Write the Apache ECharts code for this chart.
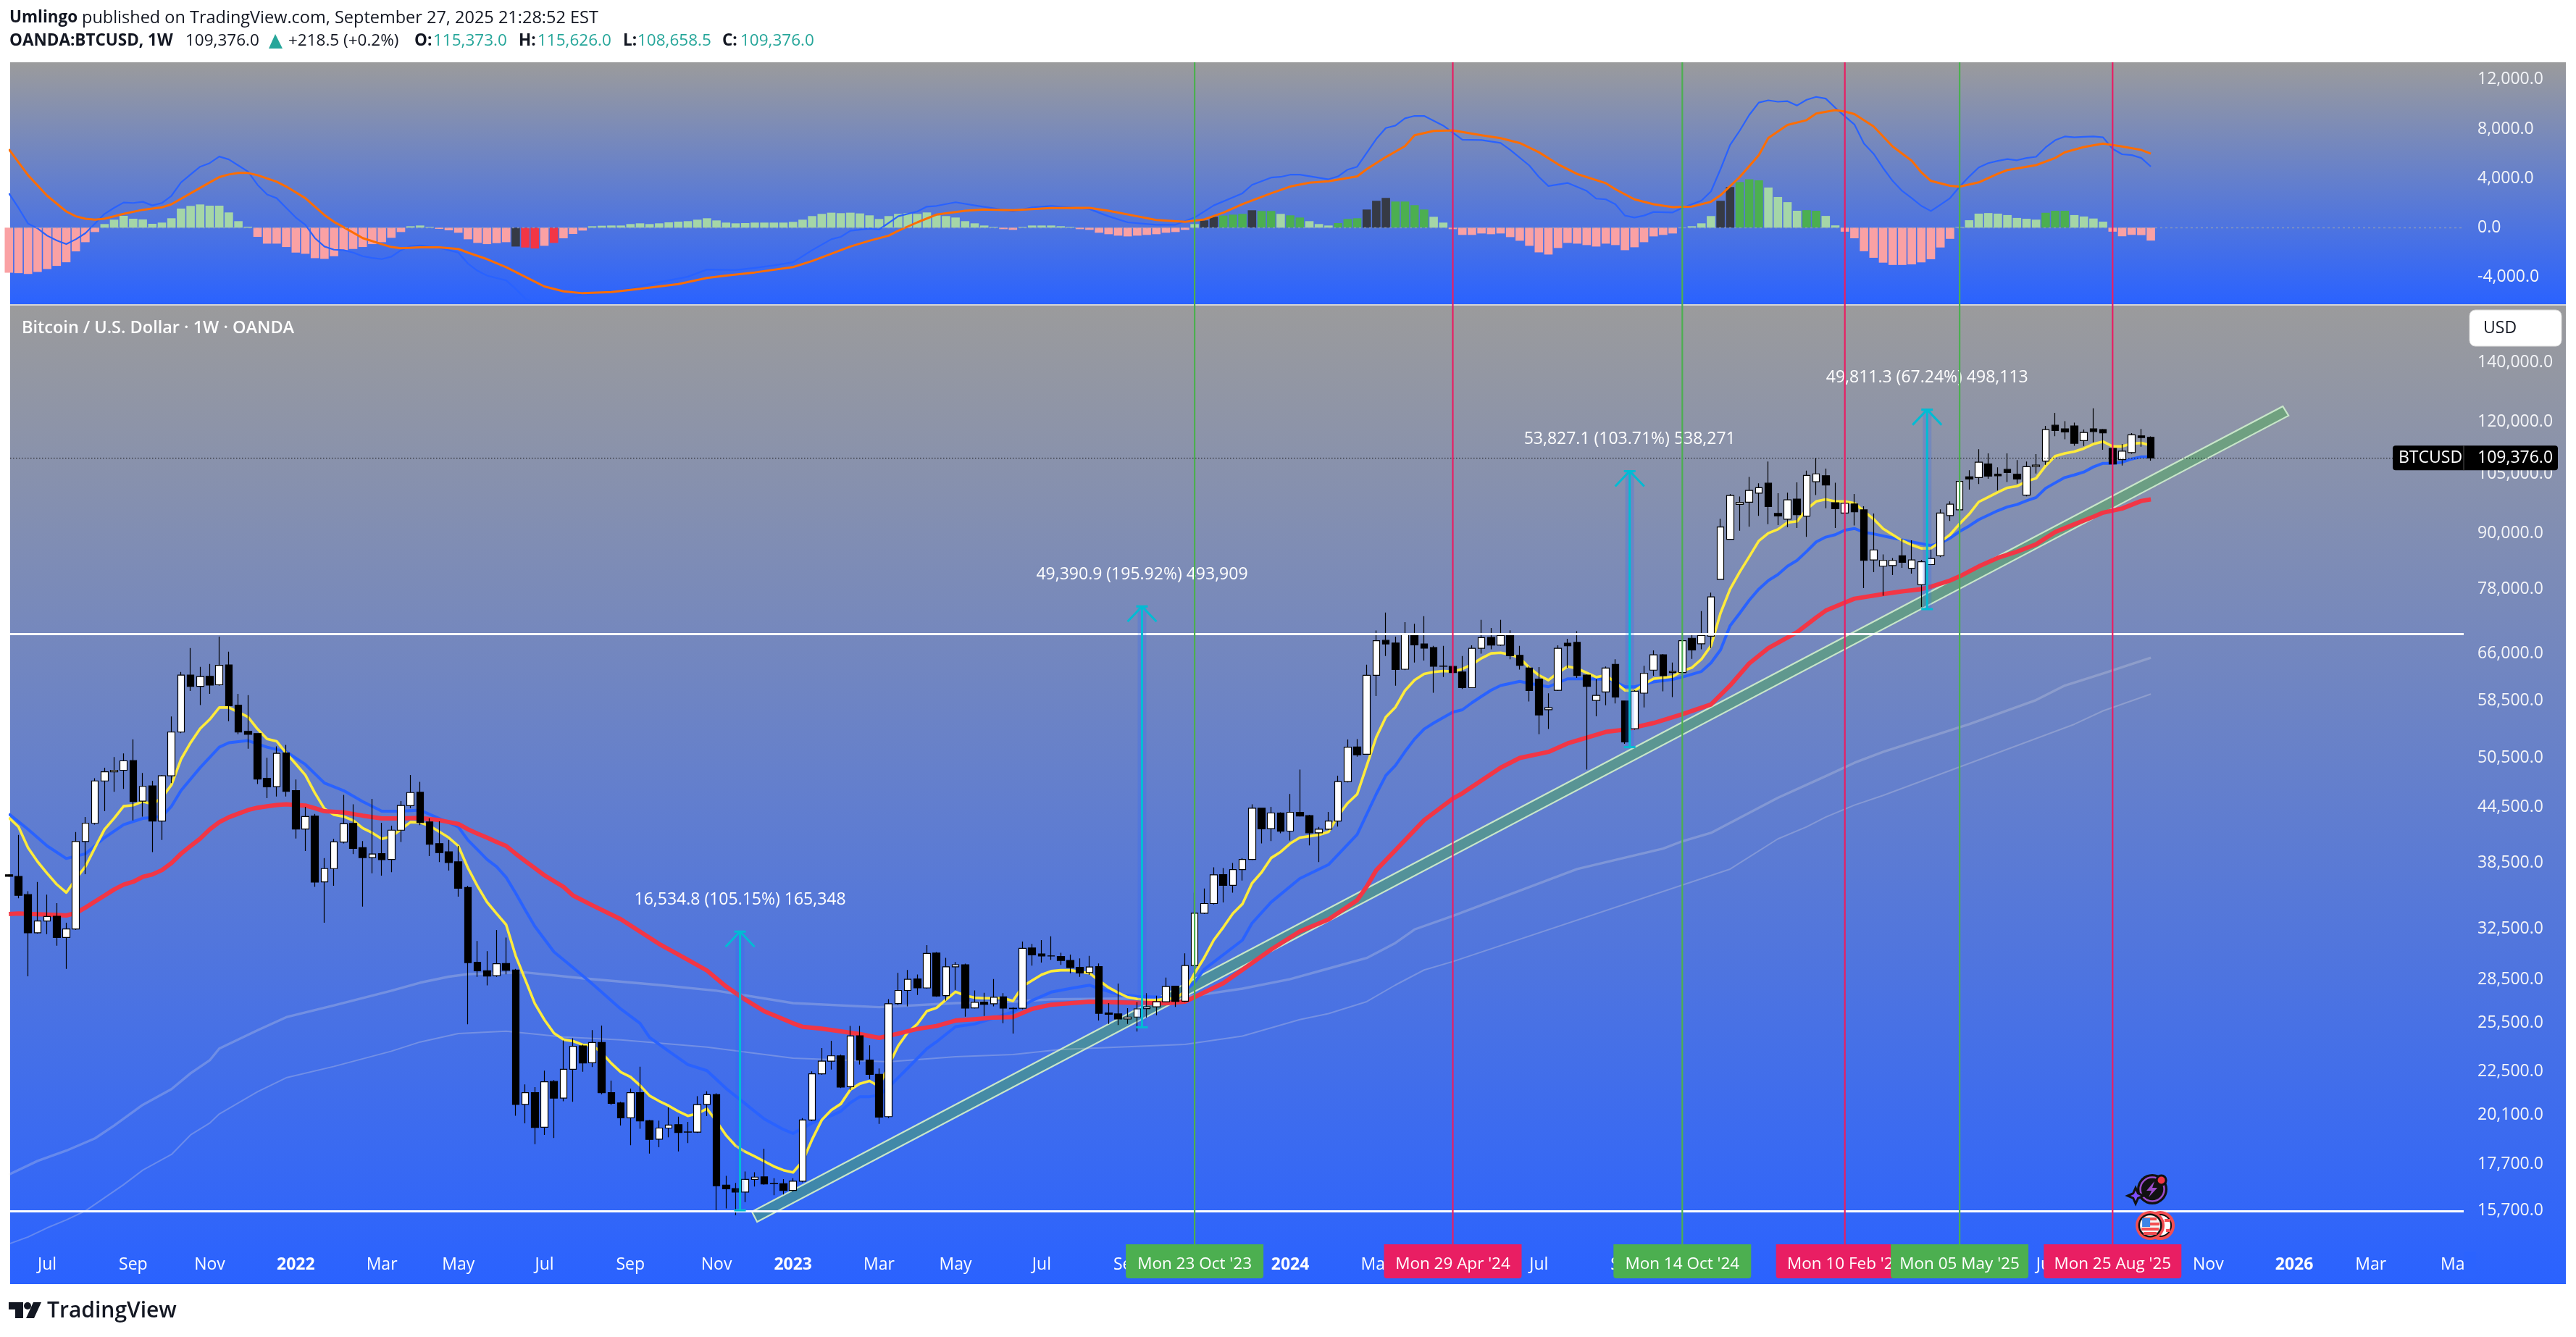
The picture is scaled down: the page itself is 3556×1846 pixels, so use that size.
<!DOCTYPE html>
<html><head><meta charset="utf-8"><style>html,body{margin:0;padding:0;background:#fff}#c{width:3556px;height:1846px}</style>
<script src="https://cdn.jsdelivr.net/npm/echarts@6/dist/echarts.min.js"></script></head><body><div id="c"></div>
<script>
// ---- weekly bars, first entry is week -1 (partly cut by the pane edge) ----
const opens=[37350,37190,35490,32160,33150,33560,31770,32480,40700,42650,
47570,48700,48900,50130,45150,46970,42900,48200,53960,62500,
60700,62300,60950,64150,57850,54060,53750,47900,46880,51120,
46400,42030,43450,36670,37950,40630,42640,40050,39040,39440,
38850,41900,44630,46200,42800,40470,39620,38620,36150,29810,
29160,28790,29710,29220,20660,21300,19480,21920,21000,22620,
24030,23000,24240,21300,20740,19960,21300,19810,18890,19440,
19610,19240,19240,20660,21190,16780,16630,16480,17030,17140,
16850,16840,16550,16950,19850,22360,23100,23420,21630,24660,
23170,22330,20020,26800,27720,28550,27900,30520,27350,29460,
29620,26500,26900,26780,27260,26450,26470,30920,30450,30300,
30250,29950,29420,29030,29470,26150,26090,25750,25880,26450,
26570,26920,28020,26960,29560,33820,34680,37370,36340,37850,
38850,44340,42070,43800,41800,43880,43500,41620,42000,42900,
47500,51930,50960,62460,68350,67880,63450,69570,67730,67100,
63980,63900,63000,60500,66960,68870,67540,69220,65770,63640,
61850,57170,60100,67850,68000,62500,58540,59850,64250,58450,
54420,59660,63300,65850,62900,62900,68720,67750,69090,80000,
88700,97050,97600,99900,102500,94800,93400,98400,94150,102900,
104500,97450,94900,97150,95700,84100,82750,82900,85000,82300,
78900,83100,85000,94300,95700,104200,104000,107700,104900,106200,
104900,99400,107000,108500,119000,117900,118800,114400,117900,117700,
112140,108900,110900,115800,115373];
const closes=[37200,35420,32160,33150,33540,31770,32480,40700,42650,47570,
48700,48900,50100,45120,46910,42900,48200,53960,62490,60700,
62250,60900,64100,57750,53960,53650,47810,46850,51080,46300,
42020,43400,36650,37950,40660,42600,39980,39040,39400,38830,
41900,44650,46170,42730,40400,39550,38540,36080,29780,29160,
28770,29690,29200,20660,21300,19470,21900,21000,22620,24000,
22990,24240,21300,20720,19960,21300,19800,18880,19440,19590,
19220,19250,20650,21190,16750,16620,16480,17030,17130,16830,
16840,16550,16950,19850,22360,23100,23420,21610,24650,23160,
22320,20000,26780,27720,28530,27900,30500,27320,29460,29620,
26480,26880,26750,27240,26480,26480,30900,30380,30300,30290,
29950,29400,29000,29450,26130,26070,25750,25880,26430,26570,
26920,28000,26950,29560,33820,34680,37340,36340,37850,38850,
44340,42040,43800,41780,43880,43470,41620,42000,42890,47500,
51900,50880,62460,68300,67720,63400,69500,67570,67000,63950,
63950,62900,60500,66960,68830,67540,69220,65680,64080,60050,
56400,57450,66960,67400,62440,60700,59300,63640,59050,52600,
59950,62770,65850,62400,63070,68300,66670,69220,76460,91560,
99300,97550,100600,101300,96490,94200,98200,94500,104600,105000,
102000,95950,97300,95200,84000,86300,84000,84000,83600,84100,
83700,84400,94900,97100,103000,103600,108200,104400,104500,105350,
103600,106950,107400,117700,117400,116950,113600,116800,117100,116700,
107700,111350,116100,115300,109376];
const highs=[37400,41400,35800,36670,35490,34720,33000,41700,43350,47900,
49230,50600,51080,52970,48560,47600,48300,56160,63000,67000,
63830,64320,69000,66400,59560,59340,53800,50500,52000,52200,
47750,44500,43700,39000,40970,45900,44800,40750,45430,42700,
42400,45170,48300,47450,43200,42870,40850,40230,36300,31480,
30670,32400,31770,29300,21760,21600,22540,22000,24370,24510,
24100,25020,25320,21970,20800,21520,22770,19850,19820,20500,
20020,19750,21100,21370,21260,17190,16880,17380,17350,18430,
17080,17040,17080,19950,22500,23890,24340,23500,25290,25290,
24060,22670,27100,29000,29220,28880,31150,30600,30150,29830,
29700,27720,27550,28550,27520,26540,31440,31250,31560,31870,
30550,30400,30100,30300,29720,26830,28220,26480,26900,27530,
27350,28650,28050,30500,35670,36050,38080,38000,38500,39000,
44800,44400,44490,43880,46000,49000,43600,42250,43920,48220,
52930,52980,64200,70130,73430,69000,71650,71350,72750,67400,
67380,63950,65640,67470,72060,70590,72060,70150,67380,63900,
63800,59640,67470,68640,70000,62600,61850,63900,65100,58500,
60100,64000,66600,66000,64540,69040,69500,73700,77300,93500,
99700,99050,104170,102500,108400,99900,100000,102700,105900,109450,
106450,102600,97800,99700,96600,94800,85300,84500,88800,88450,
84100,86400,95800,97800,103100,106000,111900,110700,106800,110700,
108800,108400,110500,118800,122900,120300,119800,117700,124300,117900,
112900,113400,116600,117900,115626];
const lows=[37150,35150,28750,32100,32050,31100,29300,32400,37400,42500,
44000,46250,46600,42960,43400,39600,40850,47300,53800,60000,
57850,59560,60800,55500,53650,51700,47200,45500,45700,45700,
41000,39700,36200,33000,36300,40500,39400,34400,37500,37260,
37600,40650,44350,42450,39200,38600,37750,35300,25400,28700,
28090,28700,28900,20070,19680,18650,19100,18950,20830,20800,
22480,22750,21200,20640,19570,18600,19400,18200,18500,18980,
18300,18700,19200,20050,15650,15800,15530,16060,16720,16800,
16350,16380,16500,16900,19800,22300,22600,21550,21450,22900,
22050,19650,19950,26700,26600,27400,27850,27270,27000,27760,
25900,26450,25950,26600,25470,24800,26400,29550,29790,30000,
29600,28980,28700,28850,25650,25420,25350,25420,24930,25850,
26000,26900,26560,26900,29500,33750,34600,34770,35670,36800,
38800,40500,40750,41560,40800,43400,40280,38600,41900,42300,
47400,50650,50900,59220,65660,60800,63300,64540,64900,59700,
62200,62700,60300,60450,66050,66800,67400,65100,63400,58400,
53650,54400,60000,63700,62050,49000,56200,57830,58100,52350,
54300,57500,62400,59950,59060,62800,65150,66800,67000,79900,
88600,90700,91600,94200,92200,92000,91500,91300,89250,99400,
96100,91300,94700,91900,78200,81500,76700,80900,82400,81200,
74500,83000,84700,93000,95600,100800,102300,103700,100600,102800,
102400,99100,105100,107500,115700,114800,112900,112800,113900,111700,
107500,107300,110600,112600,108658.5];
// fast average, one value per bar
const yellowMA=[43270,42270,40050,38630,37480,36440,35670,36960,38150,40050,
41990,43200,44570,44680,45120,44800,45550,47100,50310,52500,
54440,55750,57480,57480,56780,56100,54380,53020,52700,51100,
49700,48300,46120,44280,43600,43400,42970,42130,41610,40970,
41220,42000,42780,42750,42370,41740,41100,40230,38020,36280,
34810,33790,32840,30300,28500,26800,25700,24830,24420,24320,
24100,24070,23600,22970,22450,22180,21700,21130,20840,20590,
20300,20060,20180,20430,19780,19080,18570,18290,18070,17840,
17610,17440,17340,17840,18880,19840,20360,20690,21460,21800,
21950,21650,22850,24030,24880,25420,26280,26500,27070,27620,
27360,27200,27170,27170,27170,26980,
28000,28440,28870,29130,29200,29200,29090,28980,28440,27930,
27560,27240,27120,27030,27030,27140,27140,27680,28980,30150,
31560,32620,33800,34640,36540,37580,39000,39620,40490,41100,
41250,41400,41720,43470,44920,45980,49480,53260,56100,57530,
60050,61700,62680,63000,63150,63080,63480,64240,65270,66100,
66200,65900,65350,63700,62480,61680,62880,63900,63570,62880,
62170,62480,61300,60080,60000,61030,61920,62080,62270,63150,
63700,65100,67400,73330,78000,81500,84800,88330,90120,91000,
92600,92900,95850,97800,98300,97800,97800,97350,95350,93470,
91150,89750,88390,87400,86650,86650,88120,89750,92300,94650,
97670,98900,100150,101300,101700,103000,103800,107200,109900,110700,
111200,112100,113400,114100,112700,112700,113500,113700,113000];
// slower averages as [week, value] readings
const blueMA=[[-1,43700],[1,42000],[3,40230],[5,38950],[7,39420],[9,41100],[11,42500],[13,43190],[15,43420],[16,44560],[17,46410],[19,49230],[21,51900],[22,52500],[24,52780],[26,51900],[28,51300],[30,49640],[32,47320],[34,46400],[36,45100],[38,44000],[40,44000],[42,44120],[44,43190],[46,42250],[47,40850],[48,39850],[49,38860],[50,38140],[51,37100],[52,35620],[53,34100],[54,32700],[56,30620],[58,29400],[60,28200],[63,26420],[65,25470],[66,24560],[68,23700],[70,22900],[72,22540],[74,21530],[76,20700],[78,19900],[80,19370],[81,19170],[83,19700],[85,20070],[86,20300],[87,20750],[88,21080],[89,21080],[90,21150],[91,21600],[93,22690],[95,23860],[96,24280],[98,25250],[100,25420],[104,26220],[106,27010],[108,27600],[110,27860],[112,28100],[113,27860],[115,27450],[117,27300],[119,27260],[121,27140],[123,28300],[124,29270],[128,31560],[129,32960],[131,34800],[134,36990],[137,38340],[140,41440],[142,46000],[143,48250],[144,49500],[145,51300],[146,53000],[147,54380],[148,55230],[150,56800],[151,57150],[152,58200],[153,59160],[154,60100],[155,60840],[157,61500],[158,61170],[160,60640],[162,61900],[164,61900],[166,61800],[167,61400],[168,60650],[169,60650],[171,61400],[173,61800],[174,62170],[176,63080],[177,64500],[178,66700],[179,70960],[180,73300],[181,75800],[182,78000],[183,79750],[184,81000],[185,82750],[186,84000],[187,85960],[188,88100],[189,89200],[190,89750],[191,90800],[192,91200],[193,90300],[194,89950],[196,89000],[198,88120],[200,87300],[201,87840],[202,88950],[203,90500],[204,91800],[205,93300],[206,94400],[207,95500],[208,96430],[209,97000],[210,97950],[211,98800],[212,101170],[213,102600],[214,104000],[215,104700],[216,105500],[217,106900],[218,107900],[219,107900],[220,108200],[221,109100],[222,109700],[223,109700]];
const redMA=[[-1,33760],[0,33800],[2,33740],[4,33670],[5,33630],[6,33840],[7,34320],[8,34860],[9,35400],[10,35960],[11,36410],[12,36680],[13,37150],[14,37380],[15,37800],[16,38500],[17,39430],[18,40230],[19,41000],[20,41990],[21,42780],[22,43320],[23,43730],[24,44130],[25,44400],[26,44560],[27,44700],[28,44800],[29,44700],[30,44650],[31,44350],[32,44000],[34,43870],[36,43500],[38,43190],[40,43190],[42,43240],[44,43000],[46,42580],[47,42000],[48,41530],[49,41100],[50,40650],[51,40230],[52,39430],[53,38700],[54,38000],[55,37300],[56,36750],[57,36200],[58,35400],[60,34530],[63,33300],[65,32260],[67,31250],[70,30000],[72,29180],[74,28000],[76,27070],[78,26270],[81,25470],[82,25240],[84,25120],[86,24940],[88,24770],[90,24530],[92,24800],[94,25100],[96,25290],[98,25650],[100,25740],[102,25850],[104,25880],[106,26430],[108,26720],[112,26930],[116,26860],[120,26820],[122,26930],[126,28240],[128,29230],[131,30800],[134,32280],[137,33290],[140,34980],[141,36240],[142,37800],[144,39790],[147,43000],[150,45450],[151,46080],[155,49220],[157,50480],[160,51270],[162,52400],[166,53980],[168,54300],[171,55230],[174,56500],[177,57940],[179,60840],[181,64400],[183,67000],[186,69800],[188,72500],[189,73800],[191,75350],[192,76100],[195,77000],[197,77550],[199,78000],[200,78500],[202,79750],[203,80600],[205,82700],[207,84560],[209,85900],[211,87550],[213,90400],[215,92200],[217,94000],[218,95000],[220,96020],[222,97920],[223,98300]];
const upperGray=[[-1,17240],[2,17860],[5,18340],[8,18930],[10,19560],[13,20640],[16,21490],[18,22390],[20,23150],[21,23860],[25,25010],[28,25870],[33,26670],[39,27700],[42,28280],[45,28720],[47,28910],[53,29040],[59,28600],[67,28110],[73,27700],[81,26830],[90,26550],[98,26830],[104,26930],[108,27090],[116,27140],[122,27250],[128,27850],[133,28540],[137,29330],[141,30140],[144,31330],[146,32440],[150,33590],[163,37900],[172,39960],[174,40720],[177,41610],[184,45550],[189,48160],[192,49850],[195,51270],[204,55060],[211,58600],[214,60830],[218,62750],[223,65350]];
const lowerGray=[[-1,14420],[1,14680],[3,15030],[5,15340],[7,15700],[11,16800],[13,17440],[16,18160],[18,19100],[20,19690],[21,20160],[25,21350],[28,22130],[33,22790],[39,23700],[42,24270],[46,24800],[51,24960],[57,24590],[63,24400],[72,23950],[81,23280],[91,23060],[98,23370],[104,23500],[109,23810],[122,24120],[128,24640],[134,25710],[137,26110],[141,26930],[144,28110],[147,29220],[150,29860],[179,37900],[184,40970],[187,42260],[189,43340],[192,44700],[195,45830],[215,55060],[218,56990],[223,59520]];
// MACD pane
const histogram=[-3650,-3685,-3744,-3587,-3352,-3097,-2803,-1921,-1176,-353,
294,647,960,725,666,314,412,764,1548,1764,
1881,1784,1784,1235,529,78,-745,-1294,-1294,-1568,
-2019,-2117,-2470,-2528,-2312,-1823,-1725,-1568,-1333,-1176,
-823,-353,118,176,59,-98,-216,-412,-941,-1235,
-1333,-1254,-1176,-1529,-1607,-1686,-1470,-1235,-862,-510,
-235,118,157,176,176,294,353,294,353,431,
490,529,647,764,588,412,353,372,412,412,
412,412,470,647,941,1117,1215,1176,1215,1156,
1000,706,941,1117,1176,1117,1235,1000,941,823,
529,353,176,59,-118,-176,59,176,176,176,
118,59,-118,-176,-412,-529,-647,-706,-647,-588,
-529,-412,-353,-176,294,588,882,980,1058,1117,
1411,1352,1352,1117,1000,823,529,294,176,372,
706,764,1470,2176,2411,2117,2117,1823,1470,882,
412,-118,-588,-588,-470,-529,-470,-764,-1058,-1470,
-2000,-2176,-1646,-1235,-1294,-1411,-1529,-1294,-1411,-1823,
-1587,-1176,-706,-588,-470,20,118,353,941,2176,
3293,3695,3928,3835,3254,2487,2068,1371,1418,1371,
953,186,-325,-860,-1906,-2440,-2835,-3021,-3021,-2975,
-2812,-2556,-1604,-906,46,604,1139,1185,1139,1023,
790,720,651,1208,1371,1371,1023,906,743,488,
-325,-697,-581,-604,-1046];
const slateWeeks=[52,124,125,129,141,142,143,178,179];
const redWeeks=[53,54,56];
const greenWeeks=[126,127,128,130,131,133,134,138,139,140,144,145,146,147,180,181,182,187,188,212,213,214];
const macdLine=[[-1,2783],[0,1607],[1,333],[2,-59],[3,-647],[4,-1039],[5,-1333],[6,-941],[7,-451],[8,333],[9,1117],[10,1607],[11,2038],[12,2000],[13,2097],[14,1803],[15,2000],[16,2587],[17,3665],[18,4312],[19,4939],[20,5233],[21,5762],[22,5527],[23,5037],[24,4547],[25,3469],[26,2685],[27,2391],[28,1607],[29,823],[30,235],[31,-843],[32,-1529],[33,-1784],[34,-1823],[35,-2019],[36,-2313],[37,-2450],[38,-2548],[39,-2352],[40,-1823],[41,-1490],[42,-1431],[44,-1627],[46,-2019],[47,-2901],[48,-3489],[49,-3881],[50,-4077],[51,-4273],[52,-4959],[53,-5743],[54,-6100],[56,-6100],[58,-5547],[60,-5351],[62,-5155],[64,-4959],[66,-4567],[68,-4273],[70,-3979],[72,-3391],[75,-3430],[77,-3254],[79,-3058],[81,-2803],[83,-1823],[85,-941],[86,-745],[87,-255],[89,-70],[90,-157],[92,921],[94,1313],[95,1705],[96,1764],[98,2058],[100,1803],[102,1568],[104,1313],[106,1646],[108,1764],[112,1509],[114,921],[116,431],[119,235],[121,235],[123,823],[125,1803],[128,2783],[129,3469],[131,4057],[132,4116],[133,4292],[134,4292],[137,3920],[138,4155],[139,4704],[140,4939],[142,7193],[143,8075],[144,8271],[145,8859],[146,9055],[147,9055],[149,8271],[151,7134],[153,7095],[155,6860],[156,6311],[158,5037],[159,4116],[160,3371],[162,3626],[164,2979],[165,2352],[166,2293],[167,1901],[168,980],[169,823],[170,980],[171,1274],[173,1235],[174,1607],[176,2195],[177,2940],[178,4743],[179,6703],[180,7855],[181,9133],[182,10132],[183,10319],[184,10202],[185,10249],[186,9900],[187,10365],[188,10597],[189,10458],[190,9714],[191,9017],[192,8366],[193,6809],[194,5996],[195,4834],[196,3788],[197,2975],[198,2394],[199,1766],[200,1348],[201,1859],[202,2394],[203,3323],[204,4137],[205,4880],[206,5229],[207,5415],[208,5554],[209,5461],[210,5647],[211,5740],[212,6507],[213,7088],[214,7390],[215,7320],[216,7367],[217,7390],[218,7320],[219,6391],[220,5949],[221,5880],[222,5647],[223,4950]];
const signalLine=[[-1,6350],[1,4253],[3,2587],[5,1313],[6,921],[7,725],[8,647],[9,725],[11,1117],[13,1450],[15,1646],[16,1901],[18,2783],[20,3665],[21,4096],[22,4312],[23,4430],[24,4430],[25,4253],[27,3724],[28,3332],[30,2391],[32,1019],[33,470],[34,39],[36,-843],[38,-1333],[39,-1568],[40,-1666],[42,-1588],[44,-1588],[46,-1725],[47,-2019],[49,-2548],[51,-3195],[54,-4371],[55,-4763],[57,-5155],[59,-5312],[62,-5214],[65,-4959],[69,-4567],[72,-4077],[74,-3881],[77,-3626],[81,-3195],[83,-2705],[85,-2117],[87,-1529],[89,-1060],[91,-647],[92,-255],[94,431],[96,1058],[99,1372],[101,1470],[104,1411],[108,1588],[112,1607],[114,1372],[117,921],[119,627],[122,470],[124,666],[126,1215],[128,1901],[131,2783],[133,3332],[135,3646],[137,3763],[140,4155],[141,4743],[143,5723],[145,6605],[146,7487],[148,7840],[150,7879],[153,7487],[155,7252],[157,6860],[159,6115],[161,5135],[163,4351],[166,3606],[167,3116],[169,2293],[171,1901],[173,1666],[175,1705],[177,2097],[178,2626],[180,4100],[182,5880],[183,7274],[185,8320],[187,8715],[188,9250],[190,9528],[191,9412],[192,9203],[194,8204],[196,6577],[198,5415],[199,4485],[200,3788],[202,3393],[203,3323],[205,3672],[207,4369],[208,4671],[211,5066],[213,5647],[214,6112],[216,6530],[218,6809],[220,6577],[222,6298],[223,5996]];
// axis ticks
const priceTicks=[140000,120000,105000,90000,78000,66000,58500,50500,44500,38500,32500,28500,25500,22500,20100,17700,15700];
const macdTicks=[12000,8000,4000,0,-4000];
const monthTickDates=['2021-07-05','2021-09-06','2021-11-01','2022-01-03','2022-03-07','2022-05-02','2022-07-04','2022-09-05','2022-11-07','2023-01-02','2023-03-06','2023-05-01','2023-07-03','2023-09-04','2024-01-01','2024-03-04','2024-05-06','2024-07-01','2024-09-02','2024-11-04','2025-01-06','2025-03-03','2025-05-05','2025-07-07','2025-11-03','2026-01-05','2026-03-02','2026-05-04'];
const monthTickLabels=['Jul','Sep','Nov','2022','Mar','May','Jul','Sep','Nov','2023','Mar','May','Jul','Sep','2024','Mar','May','Jul','Sep','Nov','2025','Mar','May','Jul','Nov','2026','Mar','May'];
// annotations
const cycleWeeks=[123,150,174,191,203,219];
const cycleTags=["Mon 23 Oct '23","Mon 29 Apr '24","Mon 14 Oct '24","Mon 10 Feb '25","Mon 05 May '25","Mon 25 Aug '25"];
const cycleKinds=['g','r','g','r','g','r'];
const arrowWeeks=[75.46,117.5,168.5,199.6];
const arrowFrom=[15725,25210,51901,74080];
const arrowTo=[32260,74601,105728,123891];
const arrowTexts=['16,534.8 (105.15%) 165,348','49,390.9 (195.92%) 493,909','53,827.1 (103.71%) 538,271','49,811.3 (67.24%) 498,113'];
const levelPrices=[69550,15700];
const lastPrice=109376;
const bandWeeks=[76.7,236.8,237.4,77.25];
const bandPrices=[15670,124970,122000,15266];
const eventWeek=223;

const DAY=864e5, W0=Date.UTC(2021,5,14);
const wt=w=>w;
const FONT='"Open Sans",sans-serif';
const tickWeeks=monthTickDates.map(d=>(Date.parse(d+'T00:00:00Z')-W0)/(7*DAY));
const tickMap={}; tickWeeks.forEach((t,i)=>tickMap[t]=monthTickLabels[i]);
const fmt1=v=>Number(v).toLocaleString('en-US',{minimumFractionDigits:1,maximumFractionDigits:1});
const pairs=a=>a.map(p=>[wt(p[0]),p[1]]);
const bars=opens.map((o,k)=>[wt(k-1),o,closes[k],lows[k],highs[k]]);
const GRAD=()=>new echarts.graphic.LinearGradient(0,0,0,1,[{offset:0,color:'#9b9b9c'},{offset:1,color:'#2a62ff'}]);
const colorOfBar=(w,v)=>slateWeeks.includes(w)?'#363a45':redWeeks.includes(w)?'#f23645':greenWeeks.includes(w)?'#4caf50':(v>=0?'#a5d6a7':'#faa1a4');
const histData=histogram.map((v,k)=>({value:[wt(k-1),v],itemStyle:{color:colorOfBar(k-1,v)}}));

function line(x1,y1,x2,y2,stroke,lw,extra){return Object.assign({type:'line',shape:{x1,y1,x2,y2},style:{stroke,lineWidth:lw}},extra||{});}
function renderCycleTop(p,api){
  const x=api.coord([api.value(0),0])[0], c=p.coordSys;
  return line(x,c.y,x,c.y+c.height+2,cycleKinds[p.dataIndex]==='g'?'#4caf50':'#e91e63',2.2);
}
function renderCycleMain(p,api){
  const x=api.coord([api.value(0),50000])[0], c=p.coordSys, b=c.y+c.height, col=cycleKinds[p.dataIndex]==='g'?'#4caf50':'#e91e63';
  return {type:'group',children:[line(x,c.y,x,b-55,col,2.2),
    {type:'rect',shape:{x:x-95,y:b-55,width:190,height:47,r:[0,0,4,4]},style:{fill:col}},
    {type:'text',style:{x,y:b-27,text:cycleTags[p.dataIndex],fill:'#fff',font:'22.5px '+FONT,textAlign:'center',textVerticalAlign:'middle'}}]};
}
function renderArrow(p,api){
  const t=api.value(0), a=api.coord([t,api.value(1)]), b=api.coord([t,api.value(2)]), C='#00bcd4', x=a[0];
  return {type:'group',children:[
   {type:'rect',shape:{x:x-6,y:b[1],width:12,height:a[1]-b[1]},style:{fill:'rgba(41,98,255,0.22)'}},
   line(x,a[1],x,b[1],C,3),
   line(x-8,a[1],x+8,a[1],C,3),
   line(x-8,b[1],x+8,b[1],C,3),
   line(x,b[1],x-20,b[1]+21,C,3),
   line(x,b[1],x+20,b[1]+21,C,3),
   {type:'text',style:{x,y:b[1]-44,text:arrowTexts[p.dataIndex],fill:'#fff',font:'23px '+FONT,textAlign:'center',textVerticalAlign:'middle'}}]};
}
function renderBand(p,api){
  const pts=bandWeeks.map((w,i)=>api.coord([wt(w),bandPrices[i]]));
  return {type:'polygon',shape:{points:pts},style:{fill:'rgba(76,175,80,0.45)',stroke:'#c8e6c9',lineWidth:2.2}};
}
function renderPriceTag(p,api){
  const y=api.coord([api.value(0),api.value(1)])[1], c=p.coordSys, r=c.x+c.width;
  return {type:'group',children:[
   {type:'rect',shape:{x:r-98,y:y-17,width:228,height:34,r:4},style:{fill:'#000'}},
   line(r,y-17,r,y+17,'#555',1),
   {type:'text',style:{x:r-90,y,text:'BTCUSD',fill:'#fff',font:'23px '+FONT,textVerticalAlign:'middle'}},
   {type:'text',style:{x:r+19,y,text:fmt1(api.value(1)),fill:'#fff',font:'23px '+FONT,textVerticalAlign:'middle'}}]};
}
function renderEvents(p,api){
  const x=api.coord([api.value(0),50000])[0], c=p.coordSys, b=c.y+c.height;
  const yA=b-131, yB=b-81, xA=x+2, xB=x-1;
  const circ=(cx,cy,r,fill,stroke,lw)=>({type:'circle',shape:{cx,cy,r},style:{fill:fill,stroke:stroke||null,lineWidth:lw||0}});
  const rect=(x,y,w,h,f)=>({type:'rect',shape:{x,y,width:w,height:h},style:{fill:f}});
  const star=(cx,cy,s,fill,stroke)=>({type:'polygon',shape:{points:[[cx,cy-s],[cx+s*.3,cy-s*.3],[cx+s,cy],[cx+s*.3,cy+s*.3],[cx,cy+s],[cx-s*.3,cy+s*.3],[cx-s,cy],[cx-s*.3,cy-s*.3]]},style:{fill,stroke,lineWidth:3}});
  return {type:'group',children:[
    circ(xA,yA,21,'#111'), circ(xA,yA,16.5,'#111','#9c4dcc',2.5),
    {type:'polygon',shape:{points:[[xA+3,yA-11],[xA-8,yA+2],[xA-1,yA+2],[xA-5,yA+11],[xA+7,yA-2],[xA,yA-2]]},style:{fill:'#9c4dcc'}},
    circ(xA+12.5,yA-12.5,8,'#111'), circ(xA+12.5,yA-12.5,5,'#f23645'),
    star(xA-23,yA+9,11,'#7c4dff','#111'),
    circ(xB+14,yB,20,'#f44e52'), circ(xB+14,yB,16,'#111'), circ(xB+14,yB,14,'#fff'),
    rect(xB+20,yB-9,8,4,'#f44e52'), rect(xB+22,yB+5,6,4,'#f44e52'),
    circ(xB,yB,20,'#f44e52'), circ(xB,yB,16.5,'#111'), circ(xB,yB,14,'#f5f5f5'),
    rect(xB-9,yB-11,18,4,'#f44e52'), rect(xB-1,yB-4,14,4,'#f44e52'), rect(xB-12,yB+3,24,4,'#f44e52'), rect(xB-9,yB+9,18,4,'#f44e52'),
    rect(xB-11,yB-10,11,12,'#3d85e6')]};
}

const minW=-0.871,maxW=255.72;
const weekAxisBase={type:'value',min:minW,max:maxW,scale:true,splitLine:{show:false},axisLine:{show:false},axisTick:{show:false}};
const valBase={position:'right',splitLine:{show:false},axisLine:{show:false},axisTick:{show:false}};
const mkLineS=(name,data,color,width,z,x)=>({name,type:'line',xAxisIndex:x,yAxisIndex:x,data,showSymbol:false,smooth:false,z,clip:true,silent:true,animation:false,lineStyle:{color,width,join:'round'}});
const T=(text,x,y,font,fill,extra)=>Object.assign({type:'text',x,y,silent:true,style:{text,font,fill:fill||'#131722',textVerticalAlign:'middle'}},extra||{});
const HF='22.5px '+FONT, HB='bold 22.5px '+FONT, HL='23.5px '+FONT, TEAL='#26a69a';

const option={
  animation:false,backgroundColor:'#fff',
  textStyle:{fontFamily:FONT},
  graphic:{elements:[
    {type:'rect',z:-10,silent:true,shape:{x:14,y:86,width:3528,height:334},style:{fill:GRAD()}},
    {type:'rect',z:-10,silent:true,shape:{x:14,y:420,width:3528,height:2},style:{fill:'#d6d6d6'}},
    {type:'rect',z:-10,silent:true,shape:{x:14,y:422,width:3528,height:1351},style:{fill:GRAD()}},
    {type:'rect',z:1,silent:true,shape:{x:3401,y:1728,width:17,height:36},style:{fill:'#2b63fe'}},
    T('Umlingo',13,25,HB),T('published on TradingView.com, September 27, 2025 21:28:52 EST',113,25,HL),
    T('OANDA:BTCUSD, 1W',13,57,HB),T('109,376.0',256,57,HF),
    {type:'polygon',silent:true,shape:{points:[[380,47],[390,67],[371,67]]},style:{fill:TEAL}},
    T('+218.5 (+0.2%)',398,57,HF),
    T('O:',572,57,HB),T('115,373.0',598,57,HF,TEAL),
    T('H:',716,57,HB),T('115,626.0',742,57,HF,TEAL),
    T('L:',860,57,HB),T('108,658.5',880,57,HF,TEAL),
    T('C:',997,57,HB),T('109,376.0',1022,57,HF,TEAL),
    T('Bitcoin / U.S. Dollar · 1W · OANDA',30,453,'600 23.5px '+FONT,'#fff'),
    {type:'rect',silent:true,z:5,shape:{x:3409,y:428,width:127,height:50,r:8},style:{fill:'#fff',stroke:'#d9d9d9',lineWidth:1}},
    T('USD',3428,453,'23px '+FONT,'#131722',{z:6}),
    {type:'polygon',silent:true,shape:{points:[[12,1798],[32,1798],[32,1820],[21,1820],[21,1808],[12,1808]]},style:{fill:'#131722'}},
    {type:'circle',silent:true,shape:{cx:38,cy:1803,r:5},style:{fill:'#131722'}},
    {type:'polygon',silent:true,shape:{points:[[46,1798],[57,1798],[47,1820],[36,1820]]},style:{fill:'#131722'}},
    T('TradingView',65,1810,'600 30px '+FONT,'#131722')
  ]},
  grid:[{left:14,top:86,width:3387,height:334},{left:14,top:422,width:3387,height:1351}],
  xAxis:[Object.assign({},weekAxisBase,{gridIndex:0,axisLabel:{show:false}}),
    Object.assign({},weekAxisBase,{gridIndex:1,axisLabel:{inside:true,margin:15,color:'#fff',fontSize:23,fontFamily:FONT,hideOverlap:false,showMinLabel:true,showMaxLabel:true,customValues:tickWeeks,
       formatter:v=>{const s=tickMap[+v]||'';return /^\d/.test(s)?'{b|'+s+'}':s;},rich:{b:{fontWeight:'bold',fontSize:23,color:'#fff',fontFamily:FONT}}}})],
  yAxis:[Object.assign({},valBase,{gridIndex:0,type:'value',min:-6200,max:13400,axisLabel:{margin:19,color:'#f4f5f8',fontSize:23,fontFamily:FONT,customValues:macdTicks,formatter:fmt1}}),
    Object.assign({},valBase,{gridIndex:1,type:'log',logBase:10,min:13000,max:162000,axisLabel:{margin:19,color:'#f4f5f8',fontSize:23,fontFamily:FONT,customValues:priceTicks,formatter:fmt1}})],
  series:[
    {name:'Histogram',type:'bar',xAxisIndex:0,yAxisIndex:0,data:histData,barWidth:11.6,z:2,silent:true,
      markLine:{silent:true,symbol:'none',label:{show:false},lineStyle:{color:'rgba(150,160,180,.75)',type:[3,4],width:1.4},data:[{yAxis:0}]}},
    mkLineS('MACD',pairs(macdLine),'#2962ff',2.2,3,0),
    mkLineS('Signal',pairs(signalLine),'#ff6d00',3,4,0),
    {name:'CycleTop',type:'custom',xAxisIndex:0,yAxisIndex:0,data:cycleWeeks.map(w=>[wt(w),0]),encode:{x:0,y:1},renderItem:renderCycleTop,z:6,clip:false,silent:true},
    {name:'Band',type:'custom',xAxisIndex:1,yAxisIndex:1,data:[[wt(bandWeeks[1]),bandPrices[1]]],encode:{x:0,y:1},renderItem:renderBand,z:2,clip:true,silent:true},
    {name:'Levels',type:'line',xAxisIndex:1,yAxisIndex:1,data:[],z:2,silent:true,
      markLine:{silent:true,symbol:'none',label:{show:false},lineStyle:{color:'#fff',type:'solid',width:2.8},data:levelPrices.map(v=>({yAxis:v}))}},
    mkLineS('Upper gray',pairs(upperGray),'rgba(210,212,225,.3)',3.4,3,1),
    mkLineS('Lower gray',pairs(lowerGray),'rgba(210,212,225,.32)',2,3,1),
    mkLineS('Blue MA',pairs(blueMA),'#2962ff',4,3,1),
    mkLineS('Yellow MA',yellowMA.map((v,k)=>[wt(k-1),v]),'#ffeb3b',3.6,3,1),
    mkLineS('Red MA',pairs(redMA),'#f23645',6,3,1),
    {name:'BTCUSD',type:'candlestick',xAxisIndex:1,yAxisIndex:1,data:bars,barWidth:10,z:4,clip:true,silent:true,encode:{x:0,y:[1,2,3,4]},
      itemStyle:{color:'#fff',color0:'#000',borderColor:'#000',borderColor0:'#000',borderWidth:1.2},
      markLine:{silent:true,symbol:'none',label:{show:false},lineStyle:{color:'#111',type:[1.5,2.5],width:1.2},data:[{yAxis:lastPrice}]}},
    {name:'Arrows',type:'custom',xAxisIndex:1,yAxisIndex:1,data:arrowWeeks.map((w,i)=>[wt(w),arrowFrom[i],arrowTo[i]]),encode:{x:0,y:[1,2]},renderItem:renderArrow,z:6,clip:false,silent:true},
    {name:'CycleMain',type:'custom',xAxisIndex:1,yAxisIndex:1,data:cycleWeeks.map(w=>[wt(w),50000]),encode:{x:0,y:1},renderItem:renderCycleMain,z:7,clip:false,silent:true},
    {name:'PriceTag',type:'custom',xAxisIndex:1,yAxisIndex:1,data:[[wt(223),lastPrice]],encode:{x:0,y:1},renderItem:renderPriceTag,z:8,clip:false,silent:true},
    {name:'Events',type:'custom',xAxisIndex:1,yAxisIndex:1,data:[[wt(eventWeek),50000]],encode:{x:0,y:1},renderItem:renderEvents,z:8,clip:false,silent:true}
  ]
};
const chart=echarts.init(document.getElementById('c'),null,{renderer:'canvas',width:3556,height:1846});
chart.setOption(option);
</script></body></html>
